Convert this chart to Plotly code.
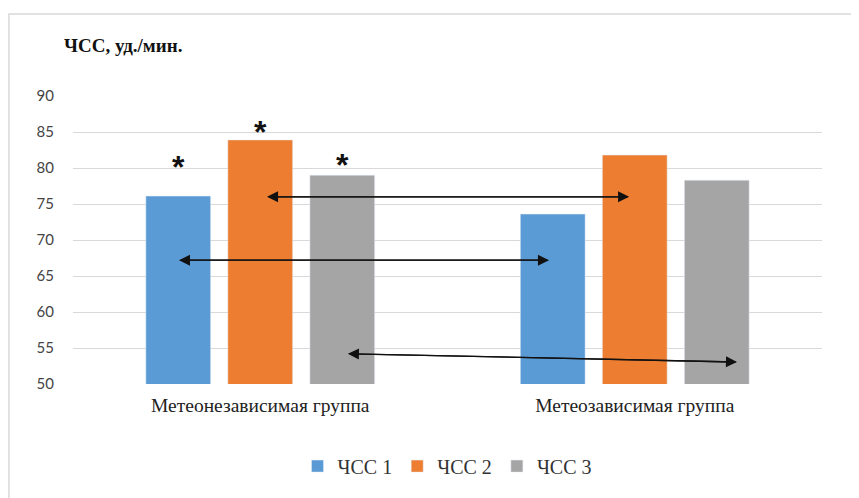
import plotly.graph_objects as go

categories = ["Метеонезависимая группа", "Метеозависимая группа"]
series_names = ["ЧСС 1", "ЧСС 2", "ЧСС 3"]
hr1 = [76.1, 73.6]
hr2 = [83.9, 81.8]
hr3 = [79.0, 78.3]
colors = ["#5B9BD5", "#ED7D31", "#A5A5A5"]
y_ticks = [50, 55, 60, 65, 70, 75, 80, 85, 90]
# significance asterisks over the first group: (x in category-index units, y in data units)
stars = [(-0.219, 80.7), (0.0, 85.6), (0.219, 81.0)]
# double arrows: (x_start, y_start, x_end, y_end) in category-index units / data units
arrows = [
    (0.018, 76.0, 0.985, 76.0),
    (-0.217, 67.2, 0.771, 67.2),
    (0.234, 54.2, 1.273, 53.05),
]

fig = go.Figure()
for name, vals, col in zip(series_names, [hr1, hr2, hr3], colors):
    fig.add_trace(go.Bar(name=name, x=categories, y=vals, marker_color=col))

for sx, sy in stars:
    fig.add_annotation(
        x=sx, y=sy, xref="x", yref="y", text="<b>*</b>", showarrow=False,
        xanchor="center", yanchor="middle", yshift=-4,
        font=dict(family="Liberation Sans", size=32, color="#111"),
    )

for x0, y0, x1, y1 in arrows:
    for (ax_, ay_, tx, ty) in [(x0, y0, x1, y1), (x1, y1, x0, y0)]:
        fig.add_annotation(
            x=tx, y=ty, ax=ax_, ay=ay_, xref="x", yref="y", axref="x", ayref="y",
            showarrow=True, arrowhead=2, arrowsize=1.7, arrowwidth=1.3,
            arrowcolor="#111", text="", standoff=0, startstandoff=0,
        )

fig.add_annotation(
    text="<b>ЧСС, уд./мин.</b>", xref="paper", yref="paper",
    x=-0.015, y=1.175, xanchor="left", yanchor="middle", showarrow=False,
    font=dict(family="Liberation Serif", size=19, color="#111"),
)

fig.add_shape(type="rect", xref="paper", yref="paper",
              x0=-0.0855, x1=1.2, y0=-0.6, y1=1.285,
              line=dict(color="#D9D9D9", width=1.5), layer="below")

fig.update_layout(
    width=859, height=498,
    margin=dict(l=65, r=45, t=88, b=122),
    paper_bgcolor="white", plot_bgcolor="white",
    barmode="group", bargap=0.343, bargroupgap=0.21,
    legend=dict(orientation="h", x=0.5, xanchor="center", y=-0.285, yanchor="middle",
                font=dict(family="Liberation Serif", size=20, color="#333"),
                itemwidth=30, traceorder="normal"),
    xaxis=dict(type="category", range=[-0.5, 1.5], showgrid=False, showline=False,
               ticks="", tickfont=dict(family="Liberation Serif", size=19.5, color="#222"),
               ticklabelstandoff=7),
    yaxis=dict(range=[50, 90], tickvals=y_ticks, showgrid=True, gridcolor="#D9D9D9",
               gridwidth=1, zeroline=False, showline=False, ticks="",
               tickfont=dict(family="Lato", size=15, color="#444"), ticklabelstandoff=18),
)

fig.write_html("out.html")
